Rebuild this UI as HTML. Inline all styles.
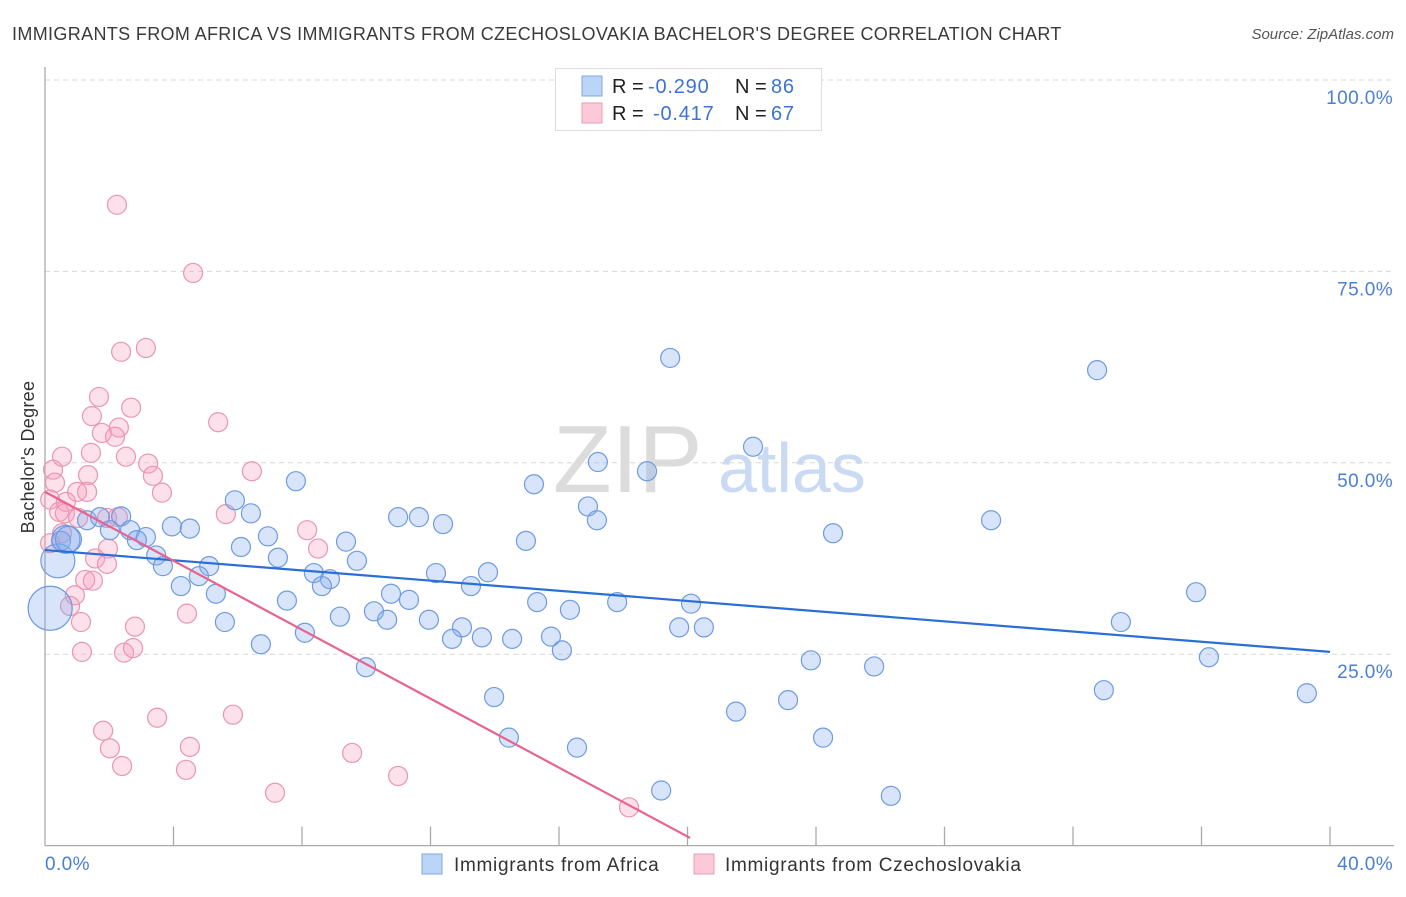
<!DOCTYPE html>
<html><head><meta charset="utf-8">
<style>
html,body{margin:0;padding:0;background:#fff;}
body{width:1406px;height:892px;overflow:hidden;font-family:"Liberation Sans",sans-serif;}
svg text{font-family:"Liberation Sans",sans-serif;}
</style></head>
<body>
<svg id="chart" width="1406" height="892" viewBox="0 0 1406 892">
<text x="12" y="40" font-size="18" letter-spacing="0.35" fill="#3a3a3a">IMMIGRANTS FROM AFRICA VS IMMIGRANTS FROM CZECHOSLOVAKIA BACHELOR'S DEGREE CORRELATION CHART</text>
<text x="1394" y="39" font-size="15" fill="#555" font-style="italic" text-anchor="end">Source: ZipAtlas.com</text>
<g>
<text x="553" y="492" font-size="96" fill="#dcdcdc" font-family="Liberation Serif">ZIP</text>
<text x="718" y="492" font-size="70" fill="#c9daf2">atlas</text>
</g>
<g id="grid"></g>
<g id="axes"></g>
<g id="pts"></g>
<g id="trend"></g>
<text transform="translate(34,457) rotate(-90)" font-size="18" letter-spacing="0.3" fill="#333" text-anchor="middle">Bachelor's Degree</text>
<g>
<rect x="555.5" y="68.5" width="266" height="62" fill="#fff" stroke="#ddd"/>
<rect x="582" y="76" width="20" height="20" fill="#bcd4f6" stroke="#7ea6e6"/>
<rect x="582" y="103" width="20" height="20" fill="#fbc9d8" stroke="#ee9ab5"/>
<text x="612" y="93" font-size="20" fill="#222">R = <tspan x="648" fill="#3b74d4" letter-spacing="0.8">-0.290</tspan><tspan x="735">N = </tspan><tspan x="771" fill="#3b74d4" letter-spacing="0.8">86</tspan></text>
<text x="612" y="120" font-size="20" fill="#222">R = <tspan x="653" fill="#3b74d4" letter-spacing="0.8">-0.417</tspan><tspan x="735">N = </tspan><tspan x="771" fill="#3b74d4" letter-spacing="0.8">67</tspan></text>
</g>
<g>
<rect x="422" y="854" width="20" height="20" fill="#bcd4f6" stroke="#7ea6e6"/>
<text x="454" y="871" font-size="19" letter-spacing="0.7" fill="#333">Immigrants from Africa</text>
<rect x="694" y="854" width="20" height="20" fill="#fbc9d8" stroke="#ee9ab5"/>
<text x="725" y="871" font-size="19" letter-spacing="0.7" fill="#333">Immigrants from Czechoslovakia</text>
</g>
</svg>
<script>
const yTicks = [25, 50, 75, 100];
const yTickLabels = ["25.0%", "50.0%", "75.0%", "100.0%"];
const xTicks = [0, 4, 8, 12, 16, 20, 24, 28, 32, 36, 40];
const xEndLabels = ["0.0%", "40.0%"];
const africaX = [19.46,32.75,22.04,17.21,18.74,15.22,7.81,5.91,6.41,16.9,10.99,11.64,12.39,17.18,29.45,2.37,1.31,1.71,2.65,2.02,3.95,4.51,6.94,3.14,2.86,24.53,14.97,9.37,6.10,0.50,3.46,9.71,3.67,7.25,5.11,4.79,12.17,13.79,8.37,8.87,8.62,4.23,13.26,5.32,7.53,10.77,11.33,15.32,17.81,20.11,35.83,9.18,10.24,10.65,11.95,16.34,5.60,8.09,12.98,12.67,13.60,14.54,15.75,16.09,19.74,20.51,33.49,6.72,9.99,23.84,25.81,36.23,13.98,32.96,39.28,23.13,21.51,14.44,24.22,16.56,19.18,26.33,0.16,0.40,0.65,0.73];
const africaY = [63.7,62.1,52.1,50.1,48.9,47.2,47.6,45.1,43.4,44.3,42.9,42.9,42.0,42.5,42.5,43.0,42.5,42.9,41.2,41.2,41.7,41.4,40.4,40.3,39.9,40.8,39.8,39.7,39.0,39.8,37.9,37.2,36.5,37.6,36.5,35.2,35.6,35.7,35.6,34.8,33.9,33.9,33.9,32.9,32.0,32.9,32.1,31.8,31.8,31.6,33.1,29.9,30.6,29.5,29.5,30.8,29.2,27.8,28.5,27.0,27.2,27.0,27.3,25.5,28.5,28.5,29.2,26.3,23.3,24.2,23.4,24.6,19.4,20.3,19.9,19.0,17.5,14.1,14.1,12.8,7.2,6.5,31.0,37.2,40.0,40.0];
const africaSize = {82:22, 83:17, 84:14, 85:13};
const czX = [2.24,4.61,3.14,2.37,1.68,2.68,1.46,5.39,1.77,2.30,2.18,0.25,0.31,0.16,0.53,1.43,1.34,2.52,3.21,3.36,3.64,1.00,1.31,0.65,0.44,0.62,1.03,1.93,2.27,5.63,6.44,0.16,0.53,1.96,1.56,1.93,1.25,1.49,0.93,0.78,4.42,2.80,1.12,1.15,2.46,2.74,3.49,1.81,2.02,2.40,4.51,4.39,5.85,7.16,8.16,8.50,9.56,10.99,18.18];
const czY = [83.7,74.8,65.0,64.5,58.6,57.2,56.1,55.3,53.9,54.6,53.4,49.1,47.4,45.2,50.8,51.3,48.4,50.8,49.9,48.3,46.1,46.2,46.2,44.9,43.6,43.4,42.8,42.8,42.9,43.3,48.9,39.5,40.8,38.8,37.5,36.8,34.7,34.6,32.7,31.3,30.3,28.6,29.2,25.3,25.2,25.8,16.7,15.0,12.7,10.4,12.9,9.9,17.1,6.9,41.2,38.8,12.1,9.1,5.0];
const trendAfrica = [38.6, 25.3];   // y at x=0, y at x=40
const trendCz = [46.2, 1.0, 20.08];  // y at x=0, y at end, end x
const NS='http://www.w3.org/2000/svg';
const X0=45, X1=1330, Y0=845.6, Y100=80;
function xs(v){return X0+(X1-X0)*v/40;}
function ys(v){return Y0-(Y0-Y100)*v/100;}
function mk(tag,attrs,parent){const e=document.createElementNS(NS,tag);for(const k in attrs)e.setAttribute(k,attrs[k]);parent.appendChild(e);return e;}
const grid=document.getElementById('grid'), axes=document.getElementById('axes'), pts=document.getElementById('pts'), trend=document.getElementById('trend');
yTicks.forEach((t,i)=>{
  const l=mk('line',{x1:X0,x2:1394,y1:ys(t),y2:ys(t),stroke:'#d8d8d8','stroke-dasharray':'5,4','stroke-width':1},grid);
  
  
  const tx=mk('text',{x:1393,y:ys(t)+24,'font-size':19,'letter-spacing':0.4,fill:'#4a7fd6','text-anchor':'end'},axes);
  tx.textContent=yTickLabels[i];
  
  
});
const ya=mk('line',{x1:X0,x2:X0,y1:67,y2:Y0,stroke:'#aaa','stroke-width':1.3},axes);


const xa=mk('line',{x1:X0,x2:1394,y1:Y0,y2:Y0,stroke:'#aaa','stroke-width':1.3},axes);


xTicks.forEach(t=>{
  if(t===0)return;
  const l=mk('line',{x1:xs(t),x2:xs(t),y1:Y0-19,y2:Y0,stroke:'#aaa','stroke-width':1.3},axes);
  
  
});
const xl0=mk('text',{x:45,y:870,'font-size':19,'letter-spacing':0.4,fill:'#4a7fd6'},axes);
xl0.textContent=xEndLabels[0];


const xl1=mk('text',{x:1393,y:870,'font-size':19,'letter-spacing':0.4,fill:'#4a7fd6','text-anchor':'end'},axes);
xl1.textContent=xEndLabels[1];


czX.forEach((v,i)=>{
  const c=mk('circle',{cx:xs(v),cy:ys(czY[i]),r:9.5,fill:'rgba(246,160,190,0.32)',stroke:'#eb95b2','stroke-width':1.2},pts);
  
  
});
africaX.forEach((v,i)=>{
  const r=africaSize[i]||9.5;
  const c=mk('circle',{cx:xs(v),cy:ys(africaY[i]),r:r,fill:'rgba(130,170,235,0.32)',stroke:'#6f9be0','stroke-width':1.2},pts);
  
  
});
const ta=mk('line',{x1:xs(0),y1:ys(trendAfrica[0]),x2:xs(40),y2:ys(trendAfrica[1]),stroke:'#2a6fd6','stroke-width':2.2},trend);


const tc=mk('line',{x1:xs(0),y1:ys(trendCz[0]),x2:xs(trendCz[2]),y2:ys(trendCz[1]),stroke:'#e8638f','stroke-width':2.2},trend);


</script>
</body></html>
